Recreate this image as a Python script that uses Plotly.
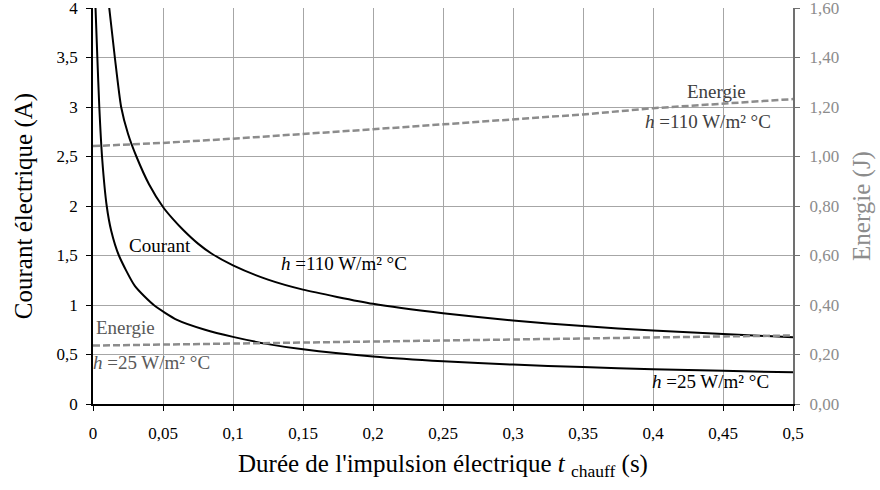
import plotly.graph_objects as go

# Courant électrique (A)
t_i110 = [0.0116, 0.0156, 0.0201, 0.025, 0.031, 0.04, 0.05, 0.057, 0.065, 0.075, 0.0846, 0.1,
          0.125, 0.15, 0.2, 0.25, 0.3, 0.35, 0.4, 0.45, 0.5]
i_110 = [4.0, 3.5, 3.0, 2.73, 2.5, 2.22, 1.99, 1.87, 1.75, 1.62, 1.52, 1.40,
         1.256, 1.155, 1.012, 0.917, 0.843, 0.787, 0.742, 0.708, 0.674]

t_i25 = [0.0018, 0.0031, 0.0045, 0.0066, 0.0098, 0.013, 0.0185, 0.03, 0.0434, 0.06, 0.08,
         0.1, 0.125, 0.15, 0.2, 0.25, 0.3, 0.35, 0.4, 0.45, 0.5]
i_25 = [4.0, 3.5, 3.0, 2.47, 2.0, 1.75, 1.5, 1.19, 1.0, 0.85, 0.75,
        0.678, 0.605, 0.552, 0.479, 0.431, 0.398, 0.373, 0.352, 0.335, 0.32]

# Energie (J)
t_e = [0, 0.05, 0.1, 0.15, 0.2, 0.25, 0.3, 0.35, 0.4, 0.45, 0.5]
e_110 = [1.042, 1.055, 1.072, 1.09, 1.11, 1.13, 1.15, 1.17, 1.195, 1.214, 1.232]
e_25 = [0.236, 0.24, 0.244, 0.25, 0.254, 0.258, 0.263, 0.266, 0.27, 0.273, 0.277]

FONT = "Liberation Serif"
GRID = "#a6a6a6"
EGRAY = "#8c8c8c"

fig = go.Figure()
for t, i in [(t_i110, i_110), (t_i25, i_25)]:
    fig.add_trace(go.Scatter(x=t, y=i, mode="lines",
                             line=dict(color="black", width=2, shape="spline", smoothing=0.6),
                             showlegend=False, hoverinfo="skip"))
for e in [e_110, e_25]:
    fig.add_trace(go.Scatter(x=t_e, y=e, yaxis="y2", mode="lines",
                             line=dict(color=EGRAY, width=2.5, dash="7px,3px"),
                             showlegend=False, hoverinfo="skip"))

notes = [
    (0.048, 1.60, "Courant", "black"),
    (0.179, 1.42, "<i>h</i> =110 W/m² °C", "black"),
    (0.445, 3.16, "Energie", "#404040"),
    (0.439, 2.85, "<i>h</i> =110 W/m² °C", "#404040"),
    (0.023, 0.77, "Energie", "#595959"),
    (0.042, 0.42, "<i>h</i> =25 W/m² °C", "#595959"),
    (0.441, 0.226, "<i>h</i> =25 W/m² °C", "black"),
]
for x, y, txt, col in notes:
    fig.add_annotation(x=x, y=y, text=txt, showarrow=False,
                       font=dict(family=FONT, size=19, color=col))

fig.update_layout(
    width=880, height=490,
    margin=dict(l=93, r=87, t=8, b=86),
    paper_bgcolor="white", plot_bgcolor="white",
    separators=", ",
    font=dict(family=FONT, size=17, color="black"),
    xaxis=dict(range=[0, 0.5], dtick=0.05, showgrid=True, gridcolor=GRID, gridwidth=1,
               showline=True, linecolor="black", linewidth=1.5, ticks="outside",
               ticklen=5, tickcolor="black", zeroline=False, automargin=False,
               ticklabeloverflow="allow", ticklabelstandoff=8,
               title=dict(text="Durée de l'impulsion électrique <i>t</i> <sub>chauff</sub> (s)",
                          font=dict(size=25), standoff=12)),
    yaxis=dict(range=[0, 4], dtick=0.5, showgrid=True, gridcolor=GRID, gridwidth=1,
               showline=True, linecolor="black", linewidth=1.5, ticks="outside",
               ticklen=5, tickcolor="black", zeroline=False, automargin=False,
               ticklabeloverflow="allow", ticklabelstandoff=5,
               title=dict(text="Courant électrique (A)", font=dict(size=25), standoff=17)),
    yaxis2=dict(range=[0, 1.6], dtick=0.2, tickformat=".2f", overlaying="y", side="right",
                showgrid=False, zeroline=False, showline=True, linecolor="#707070", linewidth=2,
                ticks="outside", ticklen=5, tickcolor="#707070", automargin=False,
                ticklabeloverflow="allow", ticklabelstandoff=6, tickfont=dict(color="#8c8c8c"),
                title=dict(text="Energie (J)", font=dict(size=25, color="#8c8c8c"), standoff=14)),
)

# drop the default page margin so the figure sits at the window's corner
fig.write_html("out.html", config={"displayModeBar": False},
               post_script="document.body.style.margin='0';")
